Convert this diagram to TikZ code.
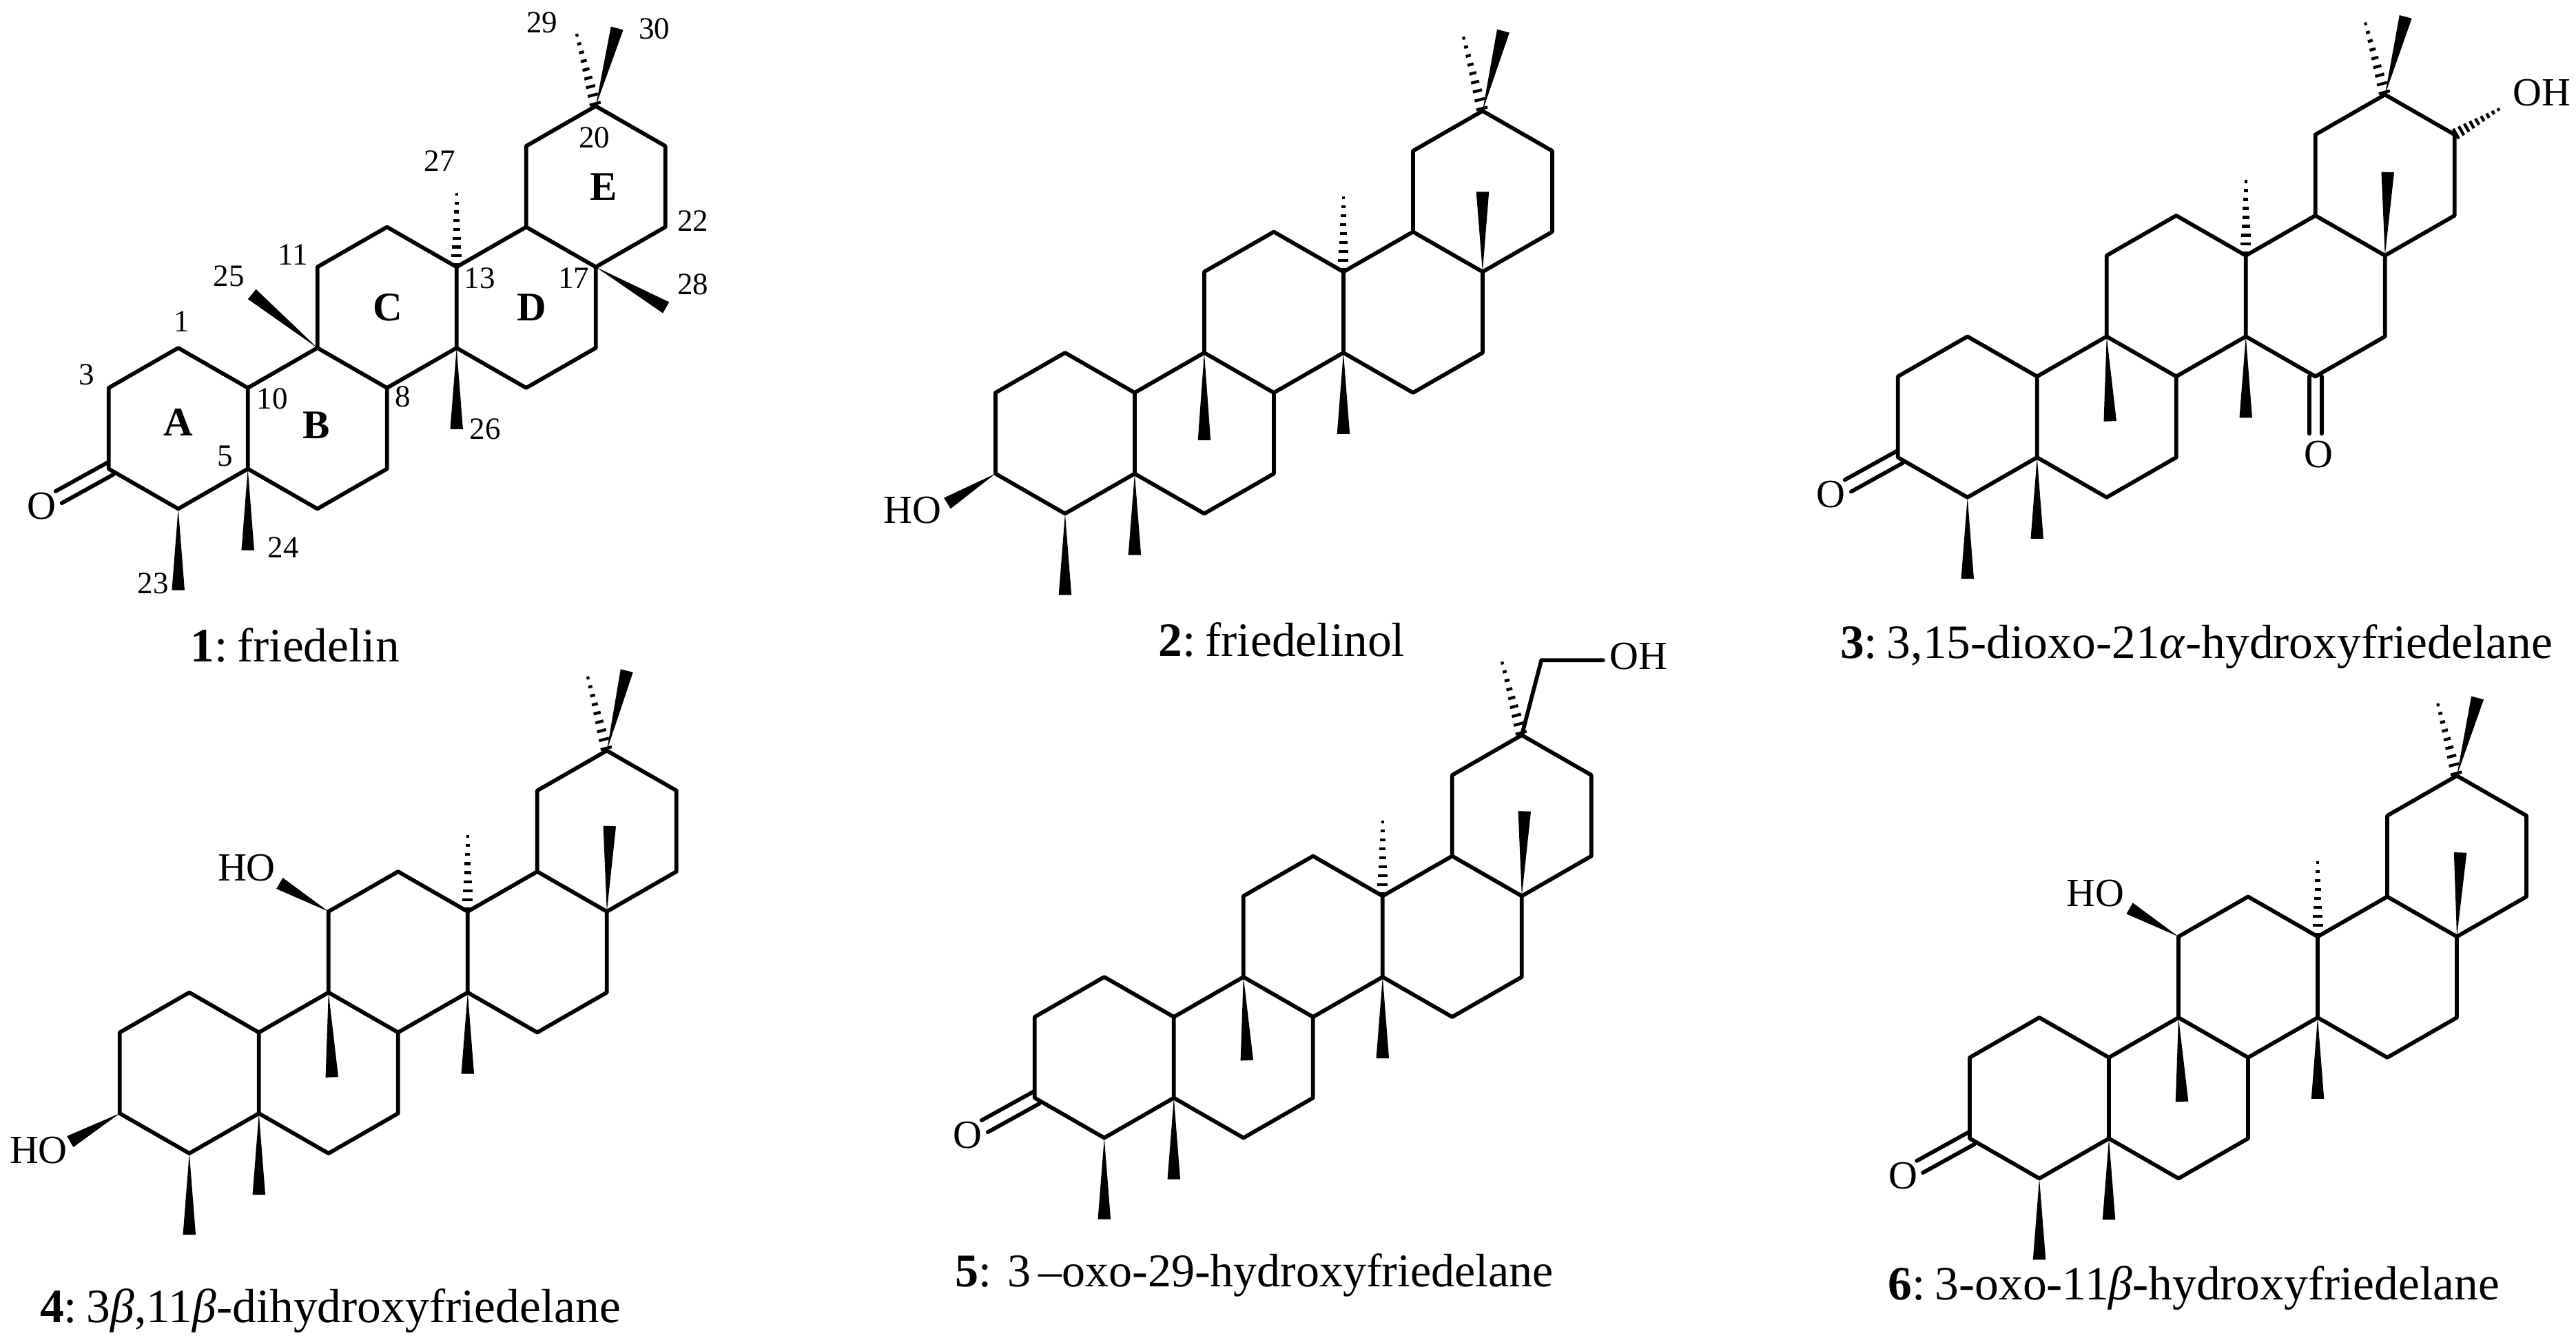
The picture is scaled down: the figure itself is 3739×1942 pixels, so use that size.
\documentclass[tikz,border=0pt]{standalone}
\usepackage{fontspec}
\setmainfont{Liberation Serif}
\usetikzlibrary{calc}
\tikzset{
  bond/.style={line width=1.15pt,line join=round,line cap=round,black},
  hashbar/.style={line width=0.85pt,black},
  atomlabel/.style={inner sep=0pt,font=\fontsize{11.6}{12}\selectfont},
  numlabel/.style={inner sep=0pt,font=\fontsize{9}{10}\selectfont},
  ringlabel/.style={inner sep=0pt,font=\fontsize{11.8}{12}\selectfont\bfseries},
  caption/.style={inner sep=0pt,anchor=base west,font=\fontsize{13.9}{15}\selectfont},
  captionnarrow/.style={caption,font=\fontsize{13.6}{15}\selectfont},
}
\newcommand{\capgap}{\hspace{0.2em}}
% skeleton: prefix, x and y of atom C5
\newcommand{\skel}[3]{%
  \begin{scope}[shift={(#2,#3)}]
    \coordinate (#1c5) at (0,0);
    \coordinate (#1c10) at (0,-117.5);
    \coordinate (#1c4) at (-101,58);
    \coordinate (#1c3) at (-202,0);
    \coordinate (#1c2) at (-202,-117.5);
    \coordinate (#1c1) at (-101,-175.5);
    \coordinate (#1c6) at (101,58);
    \coordinate (#1c7) at (202,0);
    \coordinate (#1c8) at (202,-117.5);
    \coordinate (#1c9) at (101,-175.5);
    \coordinate (#1c11) at (101,-293);
    \coordinate (#1c12) at (202,-351);
    \coordinate (#1c13) at (303,-293);
    \coordinate (#1c14) at (303,-175.5);
    \coordinate (#1c15) at (404,-117.5);
    \coordinate (#1c16) at (505,-175.5);
    \coordinate (#1c17) at (505,-293);
    \coordinate (#1c18) at (404,-351);
    \coordinate (#1c19) at (404,-468.5);
    \coordinate (#1c20) at (505,-526.5);
    \coordinate (#1c21) at (606,-468.5);
    \coordinate (#1c22) at (606,-351);
  \end{scope}
  \draw[bond] (#1c1)--(#1c2)--(#1c3)--(#1c4)--(#1c5)--(#1c10)--cycle;
  \draw[bond] (#1c5)--(#1c6)--(#1c7)--(#1c8)--(#1c9)--(#1c10);
  \draw[bond] (#1c9)--(#1c11)--(#1c12)--(#1c13)--(#1c14)--(#1c8);
  \draw[bond] (#1c14)--(#1c15)--(#1c16)--(#1c17)--(#1c18)--(#1c13);
  \draw[bond] (#1c18)--(#1c19)--(#1c20)--(#1c21)--(#1c22)--(#1c17);
}
% solid wedge: atom, dx, dy, name of free end
\newcommand{\wedgeb}[4]{%
  \coordinate (#4) at ($(#1)+(#2,#3)$);
  \fill[black] ($(#4)!1.85pt!90:(#1)$) -- ($(#4)!1.85pt!-90:(#1)$) -- (#1) -- cycle;
}
% hashed wedge: atom, dx, dy, name of free end
\newcommand{\hashb}[4]{%
  \coordinate (#4) at ($(#1)+(#2,#3)$);
  \foreach \t in {0.03,0.14,0.25,0.36,0.47,0.58,0.69,0.80,0.91,1.0}{%
    \pgfmathsetmacro{\hw}{0.3+(1-\t)*1.4}
    \coordinate (tmpp) at ($(#1)!\t!(#4)$);
    \draw[hashbar] ($(tmpp)!\hw pt!90:(#4)$) -- ($(tmpp)!\hw pt!-90:(#4)$);
  }%
}
% ketone at C3: prefix
\newcommand{\ketone}[1]{%
  \coordinate (#1o1s) at ($(#1c3)+(-0.8,-9.6)$);
  \coordinate (#1o1e) at ($(#1c3)+(-77,32.5)$);
  \coordinate (#1o2s) at ($(#1c3)+(6.8,8.3)$);
  \coordinate (#1o2e) at ($(#1c3)+(-68,49.7)$);
  \draw[bond] (#1o1s)--(#1o1e);
  \draw[bond] (#1o2s)--(#1o2e);
  \node[atomlabel] (#1O) at ($(#1c3)+(-97,54)$) {O};
}
\begin{document}
\begin{tikzpicture}[x=0.2pt,y=-0.2pt]
\useasboundingbox (0,0) rectangle (3739,1942);
\fill[white] (0,0) rectangle (3739,1942);

% ---------- 1
\skel{a}{359.7}{680.5}
\ketone{a}
\wedgeb{ac4}{0}{118}{am23}
\wedgeb{ac5}{0}{118}{am24}
\wedgeb{ac9}{-95}{-78}{am25}
\wedgeb{ac14}{0}{118}{am26}
\hashb{ac13}{0}{-116}{am27}
\wedgeb{ac17}{102}{59}{am28}
\hashb{ac20}{-30}{-113}{am29}
\wedgeb{ac20}{31}{-113}{am30}
\node[numlabel] (n29) at (786.7,33) {29};
\node[numlabel] (n30) at (949.7,41.5) {30};
\node[numlabel] (n20) at (862.5,199.6) {20};
\node[numlabel] (n27) at (638,234) {27};
\node[numlabel] (n22) at (1005.6,320.8) {22};
\node[numlabel] (n11) at (425.5,370) {11};
\node[numlabel] (n25) at (332,400.5) {25};
\node[numlabel] (n13) at (696.4,403.7) {13};
\node[numlabel] (n17) at (832.6,403.7) {17};
\node[numlabel] (n28) at (1005.6,413) {28};
\node[numlabel] (n1) at (264,467) {1};
\node[numlabel] (n3) at (125.5,544) {3};
\node[numlabel] (n10) at (395,579) {10};
\node[numlabel] (n8) at (584.7,576) {8};
\node[numlabel] (n26) at (704,623) {26};
\node[numlabel] (n5) at (326.8,662) {5};
\node[numlabel] (n24) at (411,794.6) {24};
\node[numlabel] (n23) at (222,847) {23};
\node[ringlabel] (rA) at (258.7,613.5) {A};
\node[ringlabel] (rB) at (459,617) {B};
\node[ringlabel] (rC) at (562.5,446) {C};
\node[ringlabel] (rD) at (771.4,446) {D};
\node[ringlabel] (rE) at (876,271) {E};
\node[caption] (cap1) at (275.5,960) {\textbf{1}:\capgap friedelin};

% ---------- 2
\skel{b}{1646.9}{687.5}
\wedgeb{bc4}{0}{118}{bm23}
\wedgeb{bc5}{0}{118}{bm24}
\wedgeb{bc9}{0}{127}{bm25}
\wedgeb{bc14}{0}{118}{bm26}
\hashb{bc13}{0}{-118}{bm27}
\wedgeb{bc17}{0}{-116}{bm28}
\hashb{bc20}{-30}{-116}{bm29}
\wedgeb{bc20}{30}{-116}{bm30}
\wedgeb{bc3}{-70}{43}{bo3}
\node[atomlabel] (bHO) at (1324.7,741) {HO};
\node[caption] (cap2) at (1680.6,952) {\textbf{2}:\capgap friedelinol};

% ---------- 3
\skel{c}{2956.7}{663.9}
\ketone{c}
\wedgeb{cc4}{0}{118}{cm23}
\wedgeb{cc5}{0}{118}{cm24}
\wedgeb{cc9}{5}{123}{cm25}
\wedgeb{cc14}{0}{118}{cm26}
\hashb{cc13}{0}{-118}{cm27}
\wedgeb{cc17}{4}{-121}{cm28}
\hashb{cc20}{-31}{-113}{cm29}
\wedgeb{cc20}{30}{-113}{cm30}
\hashb{cc21}{70}{-40}{co21}
\node[atomlabel] (cOH) at (3689,135) {OH};
\coordinate (co1s) at ($(cc15)+(-9,0)$);
\coordinate (co1e) at ($(cc15)+(-9,83)$);
\coordinate (co2s) at ($(cc15)+(9,0)$);
\coordinate (co2e) at ($(cc15)+(9,83)$);
\draw[bond] (co1s)--(co1e);
\draw[bond] (co2s)--(co2e);
\node[atomlabel] (cO2) at (3365,660) {O};
\node[caption] (cap3) at (2670,955) {\textbf{3}:\capgap 3,15-dioxo-21\textit{α}-hydroxyfriedelane};

% ---------- 4
\skel{d}{375.8}{1616}
\wedgeb{dc4}{0}{118}{dm23}
\wedgeb{dc5}{0}{118}{dm24}
\wedgeb{dc9}{5}{123}{dm25}
\wedgeb{dc14}{0}{118}{dm26}
\hashb{dc13}{0}{-120}{dm27}
\wedgeb{dc17}{4}{-124}{dm28}
\hashb{dc20}{-30}{-116}{dm29}
\wedgeb{dc20}{29}{-116}{dm30}
\wedgeb{dc3}{-72}{41}{do3}
\node[atomlabel] (dHOa) at (55.9,1670) {HO};
\wedgeb{dc11}{-71}{-41}{do11}
\node[atomlabel] (dHOb) at (358,1260) {HO};
\node[caption] (cap4) at (57,1919) {\textbf{4}:\capgap 3\textit{β},11\textit{β}-dihydroxyfriedelane};

% ---------- 5
\skel{e}{1703.8}{1593.5}
\ketone{e}
\wedgeb{ec4}{0}{118}{em23}
\wedgeb{ec5}{0}{118}{em24}
\wedgeb{ec9}{5}{121}{em25}
\wedgeb{ec14}{0}{118}{em26}
\hashb{ec13}{0}{-118}{em27}
\wedgeb{ec17}{4}{-123}{em28}
\hashb{ec20}{-31}{-115}{em29}
\coordinate (ech2) at (2237.2,958.3);
\coordinate (eohb) at (2326.8,958.3);
\draw[bond] (ec20)--(ech2)--(eohb);
\node[atomlabel] (eOH) at (2378.8,953) {OH};
\node[captionnarrow] (cap5) at (1385.5,1867) {\textbf{5}: 3\,–oxo-29-hydroxyfriedelane};

% ---------- 6
\skel{f}{3061}{1652.4}
\ketone{f}
\wedgeb{fc4}{0}{118}{fm23}
\wedgeb{fc5}{0}{118}{fm24}
\wedgeb{fc9}{5}{122}{fm25}
\wedgeb{fc14}{0}{118}{fm26}
\hashb{fc13}{0}{-118}{fm27}
\wedgeb{fc17}{5}{-122}{fm28}
\hashb{fc20}{-30}{-113}{fm29}
\wedgeb{fc20}{30}{-113}{fm30}
\wedgeb{fc11}{-71}{-41}{fo11}
\node[atomlabel] (fHO) at (3041.4,1297) {HO};
\node[caption] (cap6) at (2739.6,1886) {\textbf{6}:\capgap 3-oxo-11\textit{β}-hydroxyfriedelane};
\end{tikzpicture}
\end{document}
